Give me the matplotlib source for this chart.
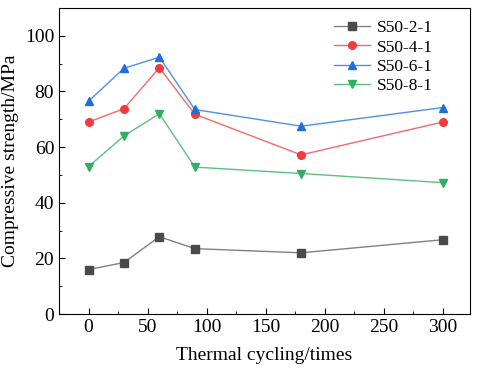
import matplotlib
matplotlib.use("Agg")
import matplotlib.pyplot as plt
from matplotlib.ticker import MultipleLocator

plt.rcParams['font.family'] = ['Liberation Serif', 'DejaVu Serif']
plt.rcParams['mathtext.fontset'] = 'stix'

cycles = [0, 30, 60, 90, 180, 300]
s50_2_1 = [16.0, 18.5, 27.8, 23.5, 22.0, 26.7]
s50_4_1 = [69.0, 73.8, 88.5, 71.8, 57.2, 69.0]
s50_6_1 = [76.5, 88.3, 92.3, 73.5, 67.5, 74.2]
s50_8_1 = [53.0, 64.0, 72.0, 52.8, 50.5, 47.2]

series = [
    ("S50-2-1", s50_2_1, "s", "#4a4a4a", "#808080"),
    ("S50-4-1", s50_4_1, "o", "#f23c3c", "#f26a6a"),
    ("S50-6-1", s50_6_1, "^", "#1f6fe0", "#4f8fe8"),
    ("S50-8-1", s50_8_1, "v", "#2fb060", "#5cc080"),
]

fig = plt.figure(figsize=(4.8, 3.77), dpi=100)
ax = fig.add_axes([0.123, 0.167, 0.856, 0.812])

for name, vals, mk, mc, lc in series:
    ax.plot(cycles, vals, color=lc, lw=1.0, marker=mk, markersize=5.5,
            markerfacecolor=mc, markeredgecolor=mc, label=name)

ax.set_xlim(-25, 323)
ax.set_ylim(0, 110)
ax.xaxis.set_major_locator(MultipleLocator(50))
ax.xaxis.set_minor_locator(MultipleLocator(25))
ax.yaxis.set_major_locator(MultipleLocator(20))
ax.yaxis.set_minor_locator(MultipleLocator(10))
ax.tick_params(which='both', direction='in', top=False, right=False, labelsize=14)
ax.tick_params(which='major', length=4)
ax.tick_params(which='minor', length=2)

ax.set_xlabel("Thermal cycling/times", fontsize=14, labelpad=8)
ax.set_ylabel("Compressive strength/MPa", fontsize=14, labelpad=4)

ax.legend(loc='upper right', bbox_to_anchor=(0.94, 1.0), frameon=False,
          fontsize=12.5, handlelength=2.1, labelspacing=0.18,
          handletextpad=0.4, borderaxespad=0.3)

fig.savefig("out.png", dpi=100)
